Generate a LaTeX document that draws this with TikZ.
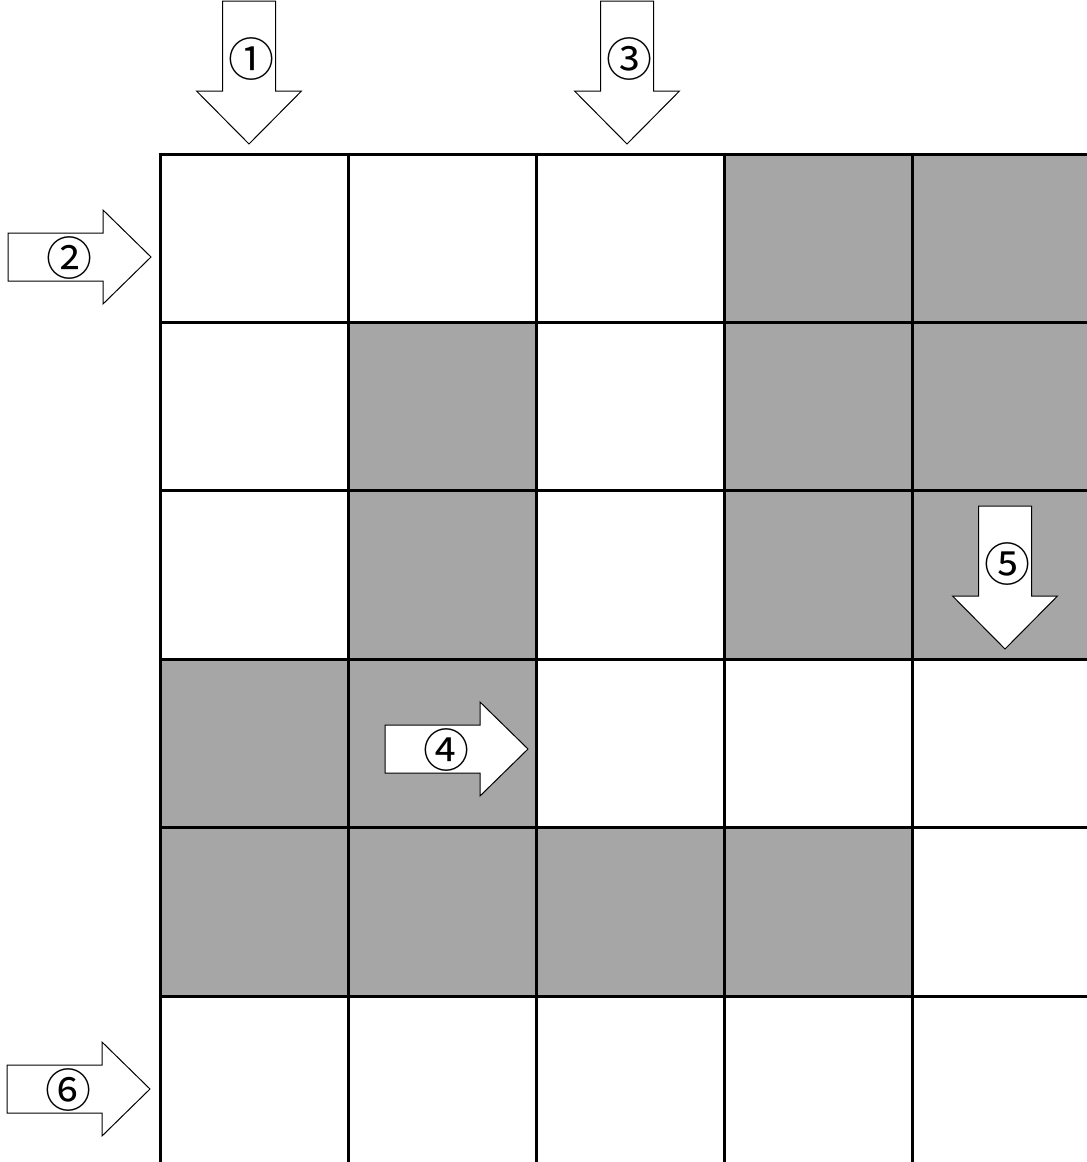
\documentclass[tikz,border=0pt]{standalone}
\usepackage{fontspec}
\newfontfamily\cjkfont{Noto Sans CJK JP}
\definecolor{cellgray}{RGB}{166,166,166}
\begin{document}
\begin{tikzpicture}[x=1pt,y=-1pt,font=\cjkfont\fontsize{46}{46}\selectfont]
\useasboundingbox (0,0) rectangle (1087,1162);
% shaded cells, column/row
\foreach \c/\r in {4/1,5/1,2/2,4/2,5/2,2/3,4/3,5/3,1/4,2/4,1/5,2/5,3/5,4/5}
  \fill[cellgray] ({160+188*(\c-1)},{154+168.4*(\r-1)}) rectangle ++(188,168.4);
% grid lines
\foreach \r in {0,...,5}
  \draw[line width=3pt] (158.5,{154+168.4*\r}) -- (1087,{154+168.4*\r});
\foreach \c in {0,...,4}
  \draw[line width=3pt] ({160+188*\c},152.5) -- ({160+188*\c},1162);
% arrows pointing down (tip x, tip y)
\foreach \i/\tx/\ty/\lab in {1/249/144/①,3/627/144/③,5/1005/649/⑤}{
  \draw[fill=white,line width=1pt] (\tx-26.5,\ty-143) -- (\tx+26.5,\ty-143) -- (\tx+26.5,\ty-53)
    -- (\tx+52.5,\ty-53) -- (\tx,\ty) -- (\tx-52.5,\ty-53) -- (\tx-26.5,\ty-53) -- cycle;
  \node[inner sep=0pt] (arr\i) at (\tx+2,\ty-85) {\lab};
}
% arrows pointing right
\foreach \i/\tx/\ty/\lab in {2/151/257/②,4/528/749/④,6/150/1089/⑥}{
  \draw[fill=white,line width=1pt] (\tx-143,\ty-24) -- (\tx-48,\ty-24) -- (\tx-48,\ty-47)
    -- (\tx,\ty) -- (\tx-48,\ty+47) -- (\tx-48,\ty+24) -- (\tx-143,\ty+24) -- cycle;
  \node[inner sep=0pt] (arr\i) at (\tx-82,\ty+1) {\lab};
}
\end{tikzpicture}
\end{document}
